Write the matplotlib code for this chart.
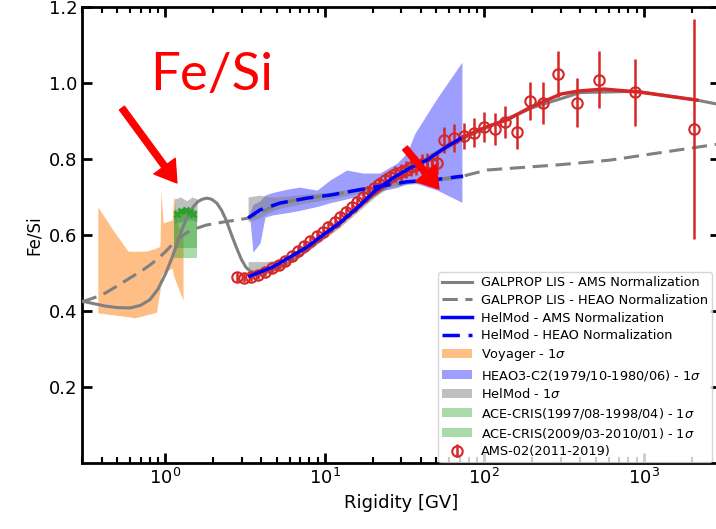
import numpy as np
import matplotlib
matplotlib.use("Agg")
import matplotlib.pyplot as plt

# AMS-02 Fe/Si ratio (rigidity bin centre [GV], ratio, error)
ams_R = [2.82, 3.13, 3.46, 3.83, 4.22, 4.65, 5.12, 5.63, 6.18, 6.77, 7.42, 8.11,
         8.86, 9.67, 10.5, 11.5, 12.5, 13.5, 14.7, 15.9, 17.3, 18.7, 20.3, 21.9,
         23.7, 25.7, 27.7, 29.9, 32.3, 34.8, 37.5, 40.4, 43.5, 46.8, 50.3,
         56.1, 64.8, 75.0, 86.5, 100, 116, 135, 160, 192, 233, 291, 379, 525, 880, 2070]
ams_v = [0.490, 0.488, 0.490, 0.495, 0.503, 0.512, 0.522, 0.532, 0.546, 0.557, 0.571, 0.584,
         0.597, 0.609, 0.622, 0.634, 0.647, 0.661, 0.673, 0.686, 0.700, 0.712, 0.724, 0.735,
         0.745, 0.752, 0.760, 0.765, 0.772, 0.778, 0.783, 0.787, 0.788, 0.787, 0.790,
         0.850, 0.855, 0.861, 0.869, 0.884, 0.879, 0.897, 0.871, 0.953, 0.948, 1.023, 0.948, 1.008, 0.976, 0.879]
ams_e = [0.013, 0.012, 0.012, 0.012, 0.012, 0.012, 0.012, 0.012, 0.013, 0.013, 0.013, 0.013,
         0.014, 0.014, 0.014, 0.015, 0.015, 0.015, 0.016, 0.016, 0.017, 0.017, 0.018, 0.018,
         0.019, 0.020, 0.021, 0.022, 0.023, 0.024, 0.025, 0.026, 0.027, 0.028, 0.029,
         0.033, 0.037, 0.035, 0.038, 0.040, 0.041, 0.042, 0.044, 0.050, 0.055, 0.061, 0.064, 0.075, 0.088, 0.290]

# GALPROP LIS, AMS normalization
gal_ams_R = [0.30, 0.35, 0.42, 0.50, 0.60, 0.70, 0.80, 0.90, 1.0, 1.1, 1.2, 1.3, 1.4, 1.5, 1.6, 1.7,
             1.82, 1.95, 2.1, 2.25, 2.4, 2.6, 2.8, 3.0, 3.2, 3.4, 3.7,
             4.2, 5.2, 7.0, 10.0, 15.0, 20.0, 30.0, 50.0, 73.0, 100, 200, 400, 900, 2150, 3000]
gal_ams_v = [0.426, 0.420, 0.413, 0.409, 0.408, 0.415, 0.430, 0.458, 0.497, 0.540, 0.585, 0.625, 0.655, 0.675, 0.688, 0.694,
             0.697, 0.694, 0.684, 0.665, 0.640, 0.600, 0.565, 0.535, 0.515, 0.505, 0.500,
             0.502, 0.513, 0.546, 0.597, 0.660, 0.703, 0.756, 0.818, 0.853, 0.880, 0.935, 0.975, 0.978, 0.955, 0.943]

# GALPROP LIS, HEAO normalization
gal_heao_R = [0.30, 0.40, 0.50, 0.60, 0.70, 0.80, 0.90, 1.0, 1.1, 1.2, 1.35, 1.5, 1.8, 2.3, 3.39,
              5.2, 7.7, 10.8, 15.0, 19.2, 32.7, 47.6, 73.4, 104, 298, 612, 3000]
gal_heao_v = [0.424, 0.442, 0.466, 0.487, 0.504, 0.521, 0.538, 0.556, 0.574, 0.589, 0.605, 0.615, 0.626, 0.634, 0.645,
              0.684, 0.697, 0.705, 0.716, 0.724, 0.740, 0.745, 0.755, 0.771, 0.785, 0.797, 0.840]

# HelMod, AMS normalization
hm_ams_R = [3.39, 4.72, 6.04, 7.72, 9.72, 12.4, 15.9, 20.6, 26.7, 34.1, 43.6, 55.0, 73.4]
hm_ams_v = [0.492, 0.516, 0.542, 0.568, 0.600, 0.632, 0.671, 0.716, 0.750, 0.776, 0.797, 0.826, 0.858]

# HelMod, HEAO normalization
hm_heao_R = [3.30, 3.92, 5.23, 7.72, 10.8, 15.0, 19.2, 32.7, 47.6, 73.4]
hm_heao_v = [0.645, 0.666, 0.684, 0.697, 0.705, 0.716, 0.724, 0.740, 0.745, 0.755]

# HelMod, high rigidity (red)
hm_hi_R = [73.4, 102, 139, 196, 302, 392, 562, 944, 2150]
hm_hi_v = [0.858, 0.884, 0.903, 0.937, 0.971, 0.979, 0.984, 0.976, 0.955]

# Voyager 1 sigma
voy_R = [0.377, 0.469, 0.582, 0.64, 0.767, 0.88, 0.925, 0.938, 0.966, 1.10, 1.13, 1.18, 1.23, 1.29]
voy_lo = [0.395, 0.390, 0.385, 0.382, 0.390, 0.397, 0.455, 0.490, 0.500, 0.513, 0.490, 0.470, 0.450, 0.429]
voy_hi = [0.674, 0.613, 0.558, 0.557, 0.558, 0.566, 0.570, 0.718, 0.632, 0.639, 0.705, 0.632, 0.613, 0.590]

# HEAO3-C2 1 sigma
heao_R = [3.39, 3.54, 3.92, 4.21, 4.72, 5.46, 6.04, 6.98, 8.92, 10.8, 13.7, 17.3, 22.1, 28.3, 32.7, 36.7, 50.5, 72.3]
heao_lo = [0.640, 0.555, 0.579, 0.647, 0.653, 0.657, 0.660, 0.665, 0.675, 0.685, 0.695, 0.705, 0.715, 0.725, 0.735, 0.737, 0.718, 0.686]
heao_hi = [0.660, 0.680, 0.690, 0.705, 0.712, 0.718, 0.722, 0.726, 0.718, 0.745, 0.771, 0.763, 0.763, 0.789, 0.816, 0.868, 0.960, 1.055]

# HelMod 1 sigma bands
hb1_R = [1.14, 1.25, 1.36, 1.47, 1.58]
hb1_lo = [0.630, 0.635, 0.640, 0.640, 0.635]
hb1_hi = [0.695, 0.700, 0.690, 0.700, 0.695]
hb2_R = [3.30, 3.9, 4.5, 5.2, 7.7, 10.8, 15.0, 19.2, 32.7, 47.6, 73.4]
hb2_lo = [0.635, 0.645, 0.660, 0.670, 0.685, 0.695, 0.707, 0.716, 0.733, 0.739, 0.749]
hb2_hi = [0.700, 0.705, 0.700, 0.700, 0.708, 0.713, 0.722, 0.730, 0.745, 0.750, 0.760]
hb3_R = [3.30, 4.2, 5.2, 7.7, 12.4, 20.6, 34.1, 73.4]
hb3_lo = [0.480, 0.495, 0.510, 0.555, 0.620, 0.700, 0.765, 0.850]
hb3_hi = [0.530, 0.530, 0.535, 0.575, 0.637, 0.720, 0.780, 0.862]

# ACE-CRIS 1 sigma and points
ace1_R = [1.14, 1.58]
ace1_lo = [0.565, 0.565]
ace1_hi = [0.665, 0.665]
ace2_R = [1.14, 1.58]
ace2_lo = [0.540, 0.540]
ace2_hi = [0.660, 0.660]
ace_pts_R = [1.18, 1.26, 1.34, 1.42, 1.50]
ace_pts_v = [0.655, 0.662, 0.666, 0.660, 0.656]

fig = plt.figure(figsize=(7.16, 5.29), dpi=100)
ax = fig.add_axes([82 / 716, 1 - 463 / 529, 638 / 716, 456 / 529])

gray = 'gray'
ax.plot(gal_ams_R, gal_ams_v, color=gray, lw=2.2, label='GALPROP LIS - AMS Normalization', zorder=3)
ax.plot(gal_heao_R, gal_heao_v, color=gray, lw=2.2, ls=(0, (5, 2.5)), label='GALPROP LIS - HEAO Normalization', zorder=3)
ax.plot(hm_ams_R, hm_ams_v, color='blue', lw=2.5, label='HelMod - AMS Normalization', zorder=5)
ax.plot(hm_heao_R, hm_heao_v, color='blue', lw=2.5, ls=(0, (5, 2.5)), label='HelMod - HEAO Normalization', zorder=5)
ax.plot(hm_hi_R, hm_hi_v, color='#d62728', lw=2.5, zorder=5)

ax.fill_between(voy_R, voy_lo, voy_hi, color='tab:orange', alpha=0.5, lw=0, label=r'Voyager - 1$\sigma$')
ax.fill_between(heao_R, heao_lo, heao_hi, color='blue', alpha=0.38, lw=0, label=r'HEAO3-C2(1979/10-1980/06) - 1$\sigma$')
ax.fill_between(hb1_R, hb1_lo, hb1_hi, color='gray', alpha=0.5, lw=0, label=r'HelMod - 1$\sigma$')
ax.fill_between(hb2_R, hb2_lo, hb2_hi, color='gray', alpha=0.5, lw=0)
ax.fill_between(hb3_R, hb3_lo, hb3_hi, color='gray', alpha=0.5, lw=0)
ax.fill_between(ace1_R, ace1_lo, ace1_hi, color='tab:green', alpha=0.4, lw=0, label=r'ACE-CRIS(1997/08-1998/04) - 1$\sigma$')
ax.fill_between(ace2_R, ace2_lo, ace2_hi, color='tab:green', alpha=0.4, lw=0, label=r'ACE-CRIS(2009/03-2010/01) - 1$\sigma$')
ax.plot(ace_pts_R, ace_pts_v, 'x', color='tab:green', ms=5, mew=2, zorder=4)

ax.errorbar(ams_R, ams_v, yerr=ams_e, fmt='o', mfc='none', mec='#d62728', ecolor='#d62728',
            ms=7.5, mew=1.5, elinewidth=1.8, capsize=0, label='AMS-02(2011-2019)', zorder=4)

ax.text(0.80, 0.982, 'Fe/Si', color='red', fontsize=38, family='Lato', ha='left', va='baseline')
arrow = dict(facecolor='red', edgecolor='red', width=4.5, headwidth=19, headlength=15)
ax.annotate('', xy=(1.18, 0.737), xytext=(0.534, 0.934), arrowprops=arrow, zorder=10)
ax.annotate('', xy=(51.9, 0.721), xytext=(31.8, 0.829), arrowprops=arrow, zorder=10)

ax.set_xscale('log')
ax.set_xlim(0.3, 3000)
ax.set_ylim(0, 1.2)
ax.set_yticks([0.2, 0.4, 0.6, 0.8, 1.0, 1.2])
ax.set_xlabel('Rigidity [GV]', fontsize=13)
ax.set_ylabel('Fe/Si', fontsize=12)
ax.tick_params(which='both', direction='in', top=True, right=True, labelsize=13)
ax.tick_params(which='major', length=7, width=2)
ax.tick_params(which='minor', length=4, width=1.5)
for s in ax.spines.values():
    s.set_linewidth(2)

ax.legend(loc='lower left', fontsize=9.3, handlelength=2.3, labelspacing=0.36,
          borderpad=0.3, borderaxespad=0.0, handletextpad=0.7,
          bbox_to_anchor=((438 - 82) / 638, 0.002))

fig.savefig('out.png', dpi=100)
